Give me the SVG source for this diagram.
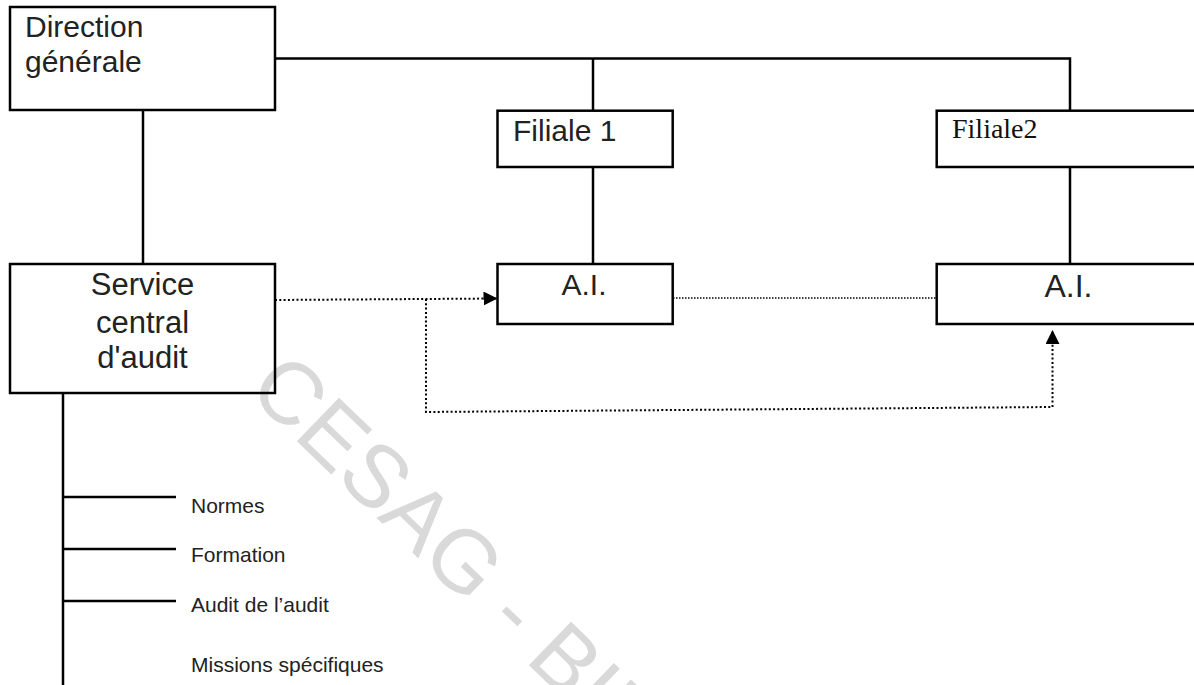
<svg xmlns="http://www.w3.org/2000/svg" width="1194" height="685" viewBox="0 0 1194 685">
<style>
.box{fill:none;stroke:#000;stroke-width:2.5}
.ln{fill:none;stroke:#000;stroke-width:2.5}
.dot{fill:none;stroke:#000;stroke-width:2;stroke-dasharray:2 2.3}
.fine{fill:none;stroke:#000;stroke-width:1.5;stroke-dasharray:1.5 1.5}
.t{font-family:"Liberation Sans",Arial,sans-serif;fill:#222}
.big{font-size:30px}
.small{font-size:21px}
.serif{font-family:"Liberation Serif","Times New Roman",serif;fill:#111;font-size:28px}
.wm{font-family:"Liberation Sans",Arial,sans-serif;font-size:88px;fill:#d9d9d9}
</style>
<defs>
<marker id="arr" markerUnits="userSpaceOnUse" markerWidth="15" markerHeight="15" refX="14" refY="7" orient="auto">
<path d="M0,0 L14,7 L0,14 z" fill="#000"/>
</marker>
</defs>
<rect width="1194" height="685" fill="#fff"/>
<text class="wm" transform="translate(246,392) rotate(44)">CESAG - BIBLIOTHEQUE</text>
<g id="connectors">
<path class="ln" d="M275,58.5 H1070 V110.7"/>
<path class="ln" d="M593,58.5 V110.7"/>
<path class="ln" d="M593,167 V264"/>
<path class="ln" d="M1070,167 V264"/>
<path class="ln" d="M143,110 V264"/>
<path class="ln" d="M63,393 V685"/>
<path class="ln" d="M63,497 H176 M63,549 H176 M63,601 H176"/>
<path class="dot" d="M275,300 L497.5,298.5" marker-end="url(#arr)"/>
<path class="dot" d="M426,299 V412 L1052.5,407 V330" marker-end="url(#arr)"/>
<path class="fine" d="M673,298 H936.7"/>
</g>
<g id="direction">
<rect class="box" x="10" y="7" width="265" height="103"/>
<text class="t big" x="25" y="37">Direction</text>
<text class="t big" x="25" y="72">générale</text>
</g>
<g id="filiale1">
<rect class="box" x="497.5" y="110.7" width="175.2" height="56.3"/>
<text class="t big" x="513" y="141">Filiale 1</text>
</g>
<g id="filiale2">
<rect class="box" x="936.7" y="110.7" width="270" height="56.3"/>
<text class="serif" x="952" y="138">Filiale2</text>
</g>
<g id="service">
<rect class="box" x="10" y="264" width="265" height="129"/>
<text class="t" font-size="31" x="142.5" y="295" text-anchor="middle">Service</text>
<text class="t" font-size="31" x="142.5" y="333" text-anchor="middle">central</text>
<text class="t" font-size="31" x="142.5" y="368" text-anchor="middle">d'audit</text>
</g>
<g id="ai1">
<rect class="box" x="497.5" y="264" width="175.2" height="60"/>
<text class="t big" x="584" y="295" text-anchor="middle">A.I.</text>
</g>
<g id="ai2">
<rect class="box" x="936.7" y="264" width="270" height="60"/>
<text class="t" font-size="32" x="1068.5" y="297" text-anchor="middle">A.I.</text>
</g>
<g id="normes"><text class="t small" x="191" y="513">Normes</text></g>
<g id="formation"><text class="t small" x="191" y="562">Formation</text></g>
<g id="auditaudit"><text class="t small" x="191" y="612">Audit de l’audit</text></g>
<g id="missions"><text class="t small" x="191" y="672">Missions spécifiques</text></g>
</svg>
